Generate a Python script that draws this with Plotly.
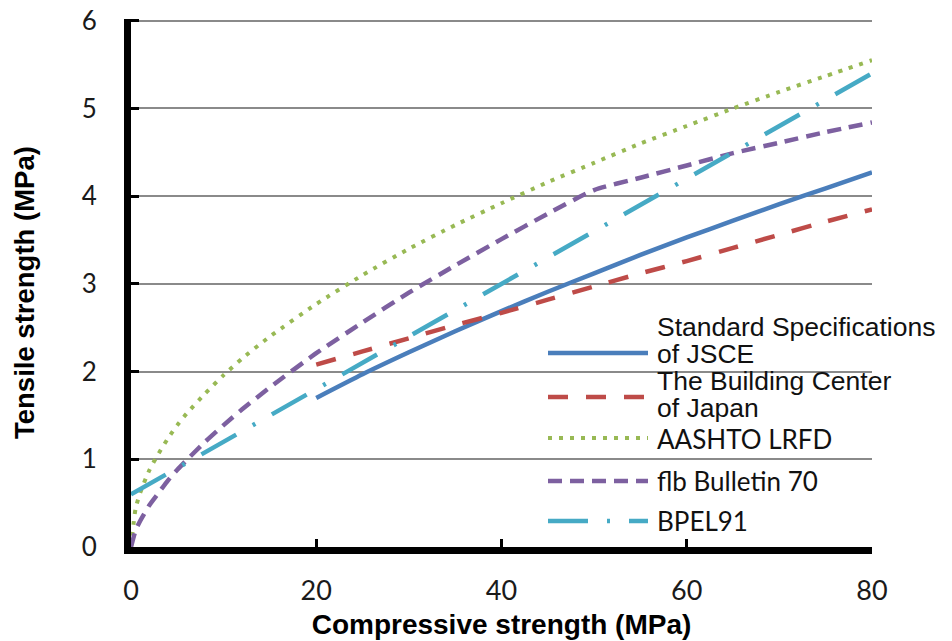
import plotly.graph_objects as go

# ---- data ----
x_full = [0, 0.5, 1, 2, 3, 4, 5, 6, 8, 10, 12, 15, 20, 25, 30, 35, 40, 45, 50, 55, 60, 65, 70, 75, 80]
aashto = [0, 0.44, 0.62, 0.88, 1.07, 1.24, 1.39, 1.52, 1.75, 1.96, 2.15, 2.40, 2.77, 3.10, 3.40,
          3.67, 3.92, 4.16, 4.38, 4.60, 4.80, 5.00, 5.19, 5.37, 5.55]
fib70 = [0, 0.19, 0.30, 0.48, 0.62, 0.76, 0.88, 0.99, 1.20, 1.39, 1.57, 1.82, 2.21, 2.56, 2.90,
         3.21, 3.51, 3.80, 4.07, 4.21, 4.35, 4.49, 4.61, 4.73, 4.84]

x_hi = [20, 25, 30, 35, 40, 45, 50, 55, 60, 65, 70, 75, 80]
jsce = [1.70, 1.97, 2.22, 2.46, 2.69, 2.91, 3.12, 3.33, 3.53, 3.72, 3.91, 4.09, 4.27]
bcj = [2.08, 2.23, 2.38, 2.53, 2.67, 2.82, 2.97, 3.12, 3.26, 3.41, 3.56, 3.71, 3.85]

x_bpel = [0, 80]
bpel91 = [0.6, 5.4]

x_ticks = [0, 20, 40, 60, 80]
y_ticks = [0, 1, 2, 3, 4, 5, 6]

names = ["Standard Specifications<br>of JSCE", "The Building Center<br>of Japan",
         "AASHTO LRFD", "flb Bulletin 70", "BPEL91"]
colors = ["#4A7EBB", "#BE4B48", "#98B954", "#7D60A0", "#46AAC5"]
dashes = ["solid", "20px,18px", "4px,7px", "14px,8px", "40px,19px,3px,19px"]
widths = [4.5, 4.5, 4, 4.5, 4.5]

series = [(x_hi, jsce), (x_hi, bcj), (x_full, aashto), (x_full, fib70), (x_bpel, bpel91)]

W, H = 952, 641
L, R, T, B = 131, 80, 19, 94
PW, PH = W - L - R, H - T - B
Y_MAX = 6.02

fig = go.Figure()
for (xs, ys), nm, c, d, w in zip(series, names, colors, dashes, widths):
    fig.add_trace(go.Scatter(x=xs, y=ys, mode="lines", name=nm, showlegend=False,
                             line=dict(color=c, dash=d, width=w, shape="spline", smoothing=0.6)))

def px2paper_x(p):
    return (p - L) / PW

def px2paper_y(q):
    return (H - B - q) / PH

# custom legend (samples as shapes, labels as text)
legend_rows = [
    (353, ["Standard Specifications", "of JSCE"], [327, 354], "Liberation Sans", 26.5),
    (397, ["The Building Center", "of Japan"], [381, 408], "Liberation Sans", 26.5),
    (438, ["AASHTO LRFD"], [439], "Lato", 26),
    (481, ["flb Bulletin 70"], [481], "Lato", 26),
    (521, ["BPEL91"], [521], "Lato", 26),
]
shapes = []
annotations = []
for i, (yl, texts, ys_t, fam, fs) in enumerate(legend_rows):
    shapes.append(dict(type="line", xref="paper", yref="paper",
                       x0=px2paper_x(548), x1=px2paper_x(648),
                       y0=px2paper_y(yl), y1=px2paper_y(yl),
                       line=dict(color=colors[i], width=widths[i], dash=dashes[i])))
    for t, yt in zip(texts, ys_t):
        annotations.append(dict(text=t, xref="paper", yref="paper",
                                x=px2paper_x(655), y=px2paper_y(yt),
                                xanchor="left", yanchor="middle", showarrow=False,
                                font=dict(family=fam, size=fs, color="#111111")))

# y-axis title placed as rotated text
annotations.append(dict(text="<b>Tensile strength (MPa)</b>", xref="paper", yref="paper",
                        x=px2paper_x(24), y=px2paper_y(293), textangle=-90,
                        xanchor="center", yanchor="middle", showarrow=False,
                        font=dict(family="Liberation Sans", size=27.5, color="black")))

fig.update_layout(
    width=W, height=H,
    margin=dict(l=L, r=R, t=T, b=B),
    paper_bgcolor="white", plot_bgcolor="white",
    shapes=shapes, annotations=annotations,
    xaxis=dict(range=[0, 80], tickvals=x_ticks, ticktext=[str(v) for v in x_ticks],
               showgrid=False, zeroline=False, automargin=False,
               showline=True, linecolor="black", linewidth=7,
               ticks="inside", ticklen=8, tickwidth=3, tickcolor="black",
               ticklabelstandoff=14,
               tickfont=dict(family="Lato", size=27, color="#1a1a1a"),
               title=dict(text="<b>Compressive strength (MPa)</b>", standoff=11,
                          font=dict(family="Liberation Sans", size=28, color="black"))),
    yaxis=dict(range=[0, Y_MAX], tickvals=y_ticks, ticktext=[str(v) for v in y_ticks],
               showgrid=True, gridcolor="#8a8a8a", gridwidth=2, zeroline=False, automargin=False,
               showline=True, linecolor="black", linewidth=7,
               ticks="inside", ticklen=8, tickwidth=3, tickcolor="black",
               ticklabelstandoff=22,
               tickfont=dict(family="Lato", size=26, color="#1a1a1a")),
)

fig.write_html("out.html", config={"displayModeBar": False},
               post_script="document.body.style.margin='0';")
